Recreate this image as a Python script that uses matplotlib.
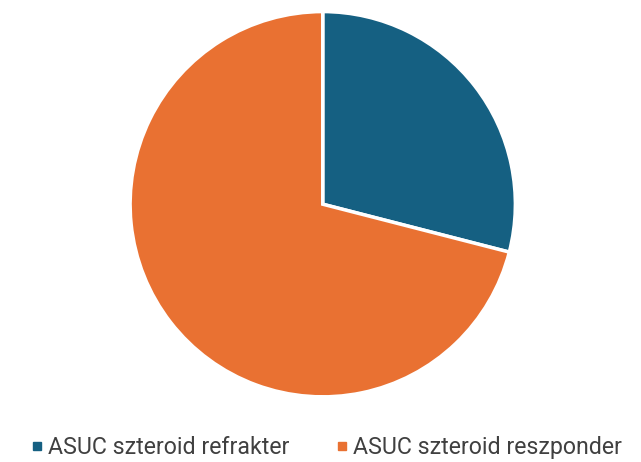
import matplotlib
matplotlib.use("Agg")
import matplotlib.pyplot as plt
from matplotlib.lines import Line2D

plt.rcParams['font.family'] = ['Roboto', 'DejaVu Sans']

# adatok
categories = ['ASUC szteroid refrakter', 'ASUC szteroid reszponder']
values = [29, 71]
colors = ['#156082', '#E97132']

fig = plt.figure(figsize=(6.41, 4.62), dpi=100)
ax = fig.add_axes([0.203, 0.140, 0.601, 0.836])
ax.pie(values, colors=colors, startangle=90, counterclock=False,
       wedgeprops=dict(edgecolor='white', linewidth=2.5))
ax.set_xlim(-1, 1)
ax.set_ylim(-1, 1)
ax.set_aspect('equal')

handles = [Line2D([], [], marker='s', linestyle='none', markersize=6,
                  color=c) for c in colors]
fig.legend(handles, categories, loc='center', bbox_to_anchor=(0.505, 0.032),
           ncol=2, frameon=False, fontsize=16.7, handletextpad=0.0,
           columnspacing=1.74, labelcolor='#404040', handlelength=1.0)

fig.savefig('out.png', dpi=100)
